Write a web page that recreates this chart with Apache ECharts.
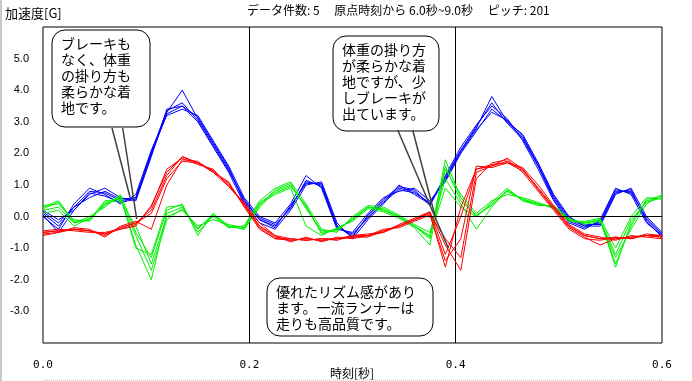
<!DOCTYPE html>
<html><head><meta charset="utf-8">
<script src="https://cdn.jsdelivr.net/npm/echarts@6/dist/echarts.min.js"></script>
<style>html,body{margin:0;padding:0;background:#fff}#c{width:692px;height:381px}</style>
</head><body><div id="c"></div>
<script>
const titleText = 'データ件数: 5\u3000 原点時刻から 6.0秒~9.0秒\u3000 ピッチ: 201';
const yName = '加速度[G]';
const xName = '時刻[秒]';
const times = [0,0.015,0.03,0.045,0.06,0.075,0.09,0.105,0.12,0.135,0.15,0.165,0.18,0.195,0.21,0.225,0.24,0.255,0.27,0.285,0.3,0.315,0.33,0.345,0.36,0.375,0.39,0.405,0.42,0.435,0.45,0.465,0.48,0.495,0.51,0.525,0.54,0.555,0.57,0.585,0.6];
const blue1 = [0.1,-0.3,0.3,0.8,0.75,0.5,0.6,2.0,3.3,4.0,3.1,2.3,1.5,0.5,-0.1,-0.3,0.3,1.1,1.0,-0.3,-0.6,0.0,0.5,0.9,0.8,0.4,1.2,2.1,2.8,3.8,3.0,2.5,1.6,0.6,-0.1,-0.3,-0.2,0.8,0.8,-0.1,-0.6];
const blue2 = [0.2,-0.1,0.2,0.7,0.9,0.6,0.5,1.9,3.4,3.5,3.0,2.2,1.4,0.4,-0.2,-0.4,0.2,1.0,1.1,-0.2,-0.7,-0.1,0.4,1.0,0.7,0.4,1.3,2.2,2.9,3.5,3.1,2.4,1.5,0.5,-0.2,-0.4,-0.1,0.9,0.7,-0.2,-0.6];
const blue3 = [0.0,-0.4,0.4,0.9,0.7,0.4,0.7,2.1,3.2,3.4,3.2,2.4,1.6,0.6,0.0,-0.2,0.4,1.3,0.9,-0.4,-0.5,0.1,0.6,0.8,0.9,0.5,1.1,2.0,2.7,3.4,3.0,2.6,1.7,0.7,0.0,-0.3,-0.3,0.7,0.9,0.0,-0.5];
const blue4 = [0.15,-0.2,0.3,0.6,0.8,0.55,0.6,2.05,3.35,3.6,3.05,2.25,1.45,0.55,-0.1,-0.35,0.35,1.05,1.05,-0.3,-0.65,0.05,0.55,0.95,0.85,0.35,1.25,2.1,2.85,3.6,2.95,2.45,1.6,0.55,-0.15,-0.35,-0.15,0.85,0.75,-0.05,-0.55];
const blue5 = [0.05,-0.5,0.2,0.75,0.65,0.45,0.55,1.95,3.25,3.5,3.15,2.35,1.55,0.45,-0.05,-0.25,0.25,1.15,0.95,-0.35,-0.55,-0.05,0.45,0.85,0.75,0.45,1.15,2.05,2.75,3.3,3.05,2.55,1.65,0.65,-0.05,-0.25,-0.25,0.75,0.85,-0.15,-0.65];
const red1 = [-0.5,-0.45,-0.4,-0.45,-0.55,-0.35,-0.2,0.2,1.3,1.9,1.7,1.45,1.0,0.4,-0.3,-0.65,-0.75,-0.7,-0.75,-0.7,-0.65,-0.6,-0.45,-0.3,-0.1,0.1,-1.6,0.3,1.5,1.6,1.75,1.5,0.9,0.3,-0.3,-0.6,-0.7,-0.7,-0.65,-0.6,-0.65];
const red2 = [-0.55,-0.5,-0.35,-0.4,-0.65,-0.3,-0.15,-0.4,1.0,1.8,1.75,1.4,1.1,0.3,-0.4,-0.7,-0.7,-0.75,-0.7,-0.75,-0.6,-0.55,-0.5,-0.25,-0.05,0.15,-0.9,-1.7,1.2,1.7,1.8,1.4,0.8,0.2,-0.4,-0.7,-0.75,-0.65,-0.7,-0.55,-0.6];
const red3 = [-0.45,-0.4,-0.45,-0.5,-0.5,-0.4,-0.25,0.3,1.5,1.85,1.65,1.5,0.95,0.45,-0.2,-0.6,-0.8,-0.65,-0.8,-0.65,-0.7,-0.6,-0.4,-0.35,-0.15,0.05,-1.4,-0.7,1.6,1.55,1.7,1.55,1.0,0.35,-0.25,-0.55,-0.65,-0.75,-0.6,-0.65,-0.7];
const red4 = [-0.6,-0.5,-0.4,-0.45,-0.6,-0.35,-0.2,0.1,1.2,1.75,1.7,1.45,1.05,0.35,-0.35,-0.7,-0.75,-0.7,-0.75,-0.7,-0.65,-0.65,-0.45,-0.3,-0.1,0.1,-0.7,-1.3,1.4,1.6,1.85,1.5,0.85,0.25,-0.35,-0.65,-0.9,-0.7,-0.65,-0.6,-0.6];
const red5 = [-0.5,-0.45,-0.4,-0.45,-0.55,-0.4,-0.3,0.35,1.4,1.9,1.7,1.4,0.95,0.4,-0.3,-0.6,-0.7,-0.75,-0.7,-0.7,-0.6,-0.6,-0.5,-0.3,-0.1,0.15,-1.2,0.0,1.5,1.65,1.7,1.45,0.9,0.3,-0.3,-0.6,-0.7,-0.65,-0.7,-0.6,-0.65];
const green1 = [0.3,0.5,-0.15,-0.1,0.4,0.6,-0.9,-2.0,0.1,0.3,-0.4,0.1,-0.3,-0.4,0.3,0.8,1.0,0.3,-0.5,-0.4,-0.1,0.3,0.2,0.0,-0.3,-0.7,1.8,0.6,0.0,0.4,0.8,0.55,0.4,0.3,-0.1,-0.2,-0.1,-1.6,-0.2,0.5,0.6];
const green2 = [0.2,0.3,-0.2,0.0,0.3,0.7,-0.5,-1.3,0.2,0.4,-0.6,0.1,-0.35,-0.3,0.5,0.9,1.1,0.4,-0.4,-0.5,0.0,0.35,0.3,0.05,-0.25,-0.5,1.2,0.4,-0.4,0.3,0.85,0.5,0.35,0.35,-0.05,-0.25,-0.15,-1.3,-0.4,0.4,0.7];
const green3 = [0.35,0.4,-0.1,-0.15,0.45,0.5,-0.3,-1.5,0.0,0.2,-0.3,-0.1,-0.25,-0.35,0.4,0.7,0.9,-0.3,-0.6,-0.35,-0.15,0.25,0.15,-0.05,-0.35,-0.9,1.5,0.7,0.1,0.5,0.7,0.6,0.45,0.25,-0.15,-0.15,-0.05,-1.0,0.0,0.6,0.55];
const green4 = [0.1,0.2,-0.3,-0.05,0.35,0.65,-1.0,-1.2,0.3,0.35,-0.5,0.05,-0.3,-0.4,0.35,0.85,1.05,0.25,-0.45,-0.45,-0.05,0.3,0.25,0.0,-0.3,-0.6,0.9,0.3,0.0,0.45,0.9,0.5,0.4,0.3,-0.1,-0.2,-0.1,-1.5,-0.3,0.55,0.65];
const green5 = [0.25,0.45,-0.2,-0.1,0.5,0.55,-0.6,-1.7,-0.1,0.25,-0.35,0.0,-0.35,-0.3,0.45,0.75,0.95,0.35,-0.55,-0.4,-0.1,0.3,0.2,0.0,-0.3,-0.65,1.6,0.5,0.05,0.35,0.8,0.55,0.4,0.3,-0.1,-0.2,-0.1,-1.2,-0.1,0.45,0.6];
const note1 = ['ブレーキも','なく、体重','の掛り方も','柔らかな着','地です。'];
const note2 = ['体重の掛り方','が柔らかな着','地ですが、少','しブレーキが','出ています。'];
const note3 = ['優れたリズム感があり','ます。一流ランナーは','走りも高品質です。'];

const groups = [
  {color:'#0000ff', sets:[blue1,blue2,blue3,blue4,blue5]},
  {color:'#00f000', sets:[green1,green2,green3,green4,green5]},
  {color:'#ff0000', sets:[red1,red2,red3,red4,red5]}
];
const series = [];
groups.forEach(g => g.sets.forEach(vals => {
  series.push({type:'line', data: times.map((t,i)=>[t, vals[i]]), showSymbol:false, symbol:'none',
    lineStyle:{color:g.color, width:1}, itemStyle:{color:g.color}, animation:false, silent:true, z:3});
}));
series[0].markLine = {silent:true, symbol:'none', label:{show:false}, animation:false,
  lineStyle:{color:'#000', width:1, type:'solid'}, data:[{yAxis:0}]};

const CJK = '"Noto Sans CJK JP", sans-serif';
function box(x,y,w,h,lines){
  return {type:'group', z:10, children:[
    {type:'rect', shape:{x:x,y:y,width:w,height:h,r:13}, style:{fill:'#fff', stroke:'#000', lineWidth:1}},
    {type:'text', x:x+9, y:y+6, style:{text:lines.join('\n'), font:'14px '+CJK, lineHeight:16, fill:'#000'}}
  ]};
}
const chart = echarts.init(document.getElementById('c'), null, {renderer:'canvas'});
chart.setOption({
  animation:false,
  backgroundColor:'#fff',
  grid:{left:43, right:30, top:27, bottom:38, containLabel:false, outerBoundsMode:'none',
    show:true, borderColor:'#000', borderWidth:1, backgroundColor:'transparent'},
  xAxis:{type:'value', min:0, max:0.6, interval:0.2,
    axisLine:{show:false}, axisTick:{show:true, customValues:[0.2,0.4], length:9, lineStyle:{color:'#000'}},
    axisLabel:{color:'#000', fontSize:11, fontFamily:'"DejaVu Sans Mono", monospace', margin:17, formatter:v=>v.toFixed(1)},
    splitLine:{show:true, lineStyle:{color:'#000', width:1}}},
  yAxis:{type:'value', min:-4, max:6, interval:1,
    axisLine:{show:false}, axisTick:{show:false},
    axisLabel:{color:'#000', fontSize:11, fontFamily:'"Liberation Sans", Arial, sans-serif', margin:14,
      formatter:v=>(v>=-3 && v<=5) ? v.toFixed(1) : ''},
    splitLine:{show:false}},
  series:series,
  graphic:[
    {type:'text', left:5, top:7, style:{text:yName, font:'13px '+CJK, fill:'#000'}},
    {type:'text', left:247, top:4, style:{text:titleText, font:'12px '+CJK, fill:'#000'}},
    {type:'text', x:352, y:373, style:{text:xName, font:'12px '+CJK, fill:'#000', align:'center', verticalAlign:'middle'}},
    {type:'rect', left:0, top:0, shape:{width:2, height:381}, style:{fill:'#c8c8c8'}},
    {type:'line', shape:{x1:43, y1:380, x2:662, y2:380}, style:{stroke:'#c0c0c0', lineWidth:1, lineDash:[1,1]}},
    {type:'line', z:9, shape:{x1:112, y1:128, x2:130, y2:197}, style:{stroke:'#404040', lineWidth:1.5}},
    {type:'line', z:9, shape:{x1:122.7, y1:128, x2:136.7, y2:219}, style:{stroke:'#404040', lineWidth:1.5}},
    {type:'line', z:9, shape:{x1:397.7, y1:130, x2:448.3, y2:248}, style:{stroke:'#404040', lineWidth:1.5}},
    {type:'line', z:9, shape:{x1:412.7, y1:130, x2:435, y2:216}, style:{stroke:'#404040', lineWidth:1.5}},
    box(52, 30, 98, 97, note1),
    box(333, 36, 106, 95, note2),
    box(267, 278, 166, 58, note3)
  ]
});
</script></body></html>
